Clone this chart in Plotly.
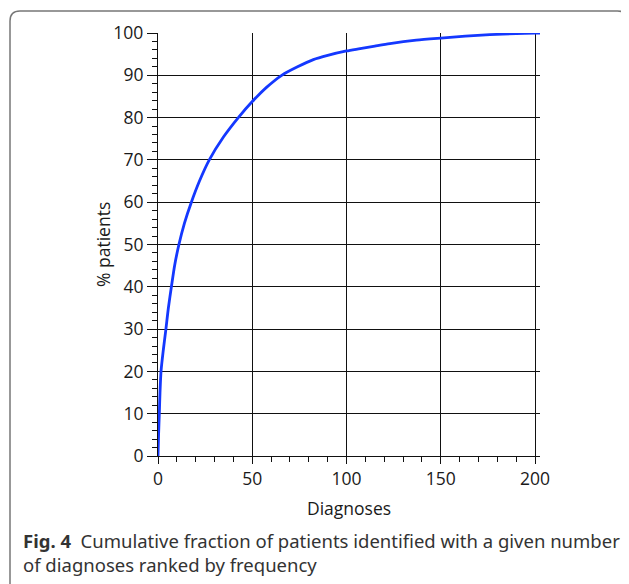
import plotly.graph_objects as go

# Data (cumulative % of patients vs number of diagnoses)
diagnoses = [0, 0.3, 0.7, 1.06, 1.6, 2.8, 4.2, 5.5, 7.1, 8.8, 11.1, 14, 17.7, 22, 27.2,
             34.7, 42.6, 50, 57.7, 65.6, 74, 82.4, 90, 100, 107.2, 115, 123, 137, 150,
             163, 176, 190, 200, 202.6]
pct_patients = [0, 5, 10, 15, 20, 25, 30, 35, 40, 45, 50, 55, 60, 65, 70,
                75.4, 80, 83.8, 87.2, 90, 92.0, 93.7, 94.7, 95.75, 96.3, 96.9, 97.5, 98.3, 98.8,
                99.25, 99.6, 99.85, 99.95, 100]

x_ticks = [0, 50, 100, 150, 200]
y_ticks = [0, 10, 20, 30, 40, 50, 60, 70, 80, 90, 100]

# page body adds an 8px offset; figure coordinates = reference pixels - 8
OFF = 8
W, H = 629 - OFF, 584 - OFF
def px(x):
    return (x - OFF) / W
def py(y):
    return 1 - (y - OFF) / H

fig = go.Figure()
fig.add_trace(go.Scatter(x=diagnoses, y=pct_patients, mode="lines",
                         line=dict(color="#1438ff", width=2.8, shape="spline", smoothing=0.7),
                         showlegend=False, cliponaxis=False))

font = "Open Sans, Noto Sans, sans-serif"
axis_common = dict(ticks="outside", tickcolor="#111", tickwidth=1,
                   showline=True, linecolor="#111", linewidth=1.2,
                   showgrid=True, gridcolor="#111", gridwidth=1,
                   zeroline=False, automargin=False,
                   tickfont=dict(size=17.5, color="#1a1a1a"))
fig.update_layout(
    width=W, height=H,
    margin=dict(l=0, r=0, t=0, b=0),
    paper_bgcolor="white", plot_bgcolor="white",
    font=dict(family=font, color="#1a1a1a", size=15),
    xaxis=dict(domain=[px(158), px(540)], range=[0, 202.6],
               tickvals=x_ticks, ticklen=7,
               minor=dict(dtick=10, ticks="outside", ticklen=5, tickcolor="#111", showgrid=False),
               **axis_common),
    yaxis=dict(domain=[py(456), py(33)], range=[0, 100],
               tickvals=y_ticks, ticklen=10,
               minor=dict(dtick=2, ticks="outside", ticklen=5, tickcolor="#111", showgrid=False),
               **axis_common),
)

fig.add_annotation(x=px(349), y=py(508), xref="paper", yref="paper", text="Diagnoses",
                   showarrow=False, font=dict(size=17.5, color="#1a1a1a"),
                   xanchor="center", yanchor="middle")
fig.add_annotation(x=px(103), y=py(245), xref="paper", yref="paper", text="% patients",
                   showarrow=False, textangle=-90, font=dict(size=17.5, color="#1a1a1a"),
                   xanchor="center", yanchor="middle")
fig.add_annotation(x=px(21), y=py(540), xref="paper", yref="paper",
                   text="<b>Fig. 4</b>  Cumulative fraction of patients identified with a given number<br>of diagnoses ranked by frequency",
                   showarrow=False, align="left", xanchor="left", yanchor="top",
                   font=dict(size=18.5, color="#333", family="Noto Sans, Open Sans, sans-serif"),
                   yshift=14)

# rounded frame
L, T, R, B, r = 10, 11, 627.5, 600, 10
path = (f"M {px(L)},{py(B)} L {px(L)},{py(T + r)} Q {px(L)},{py(T)} {px(L + r)},{py(T)} "
        f"L {px(R - r)},{py(T)} Q {px(R)},{py(T)} {px(R)},{py(T + r)} L {px(R)},{py(B)}")
fig.add_shape(type="path", path=path, xref="paper", yref="paper",
              line=dict(color="#777", width=1.5))

fig.write_html("out.html")
